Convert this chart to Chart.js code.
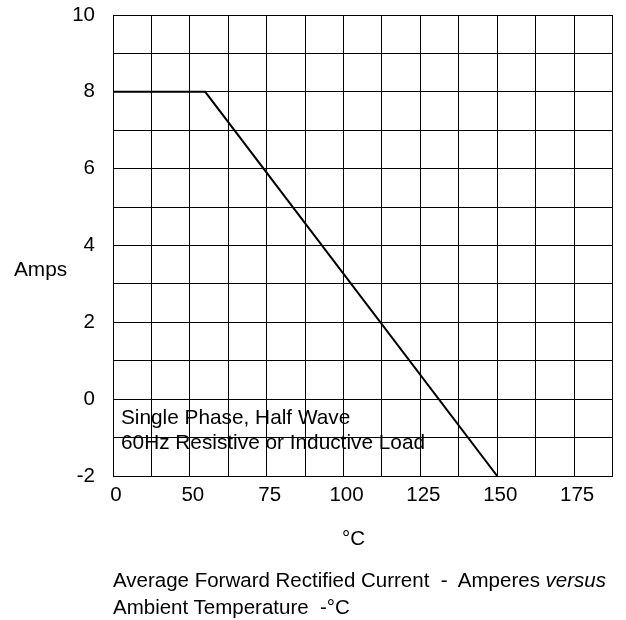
<!DOCTYPE html>
<html lang="en">
<head>
  <meta charset="UTF-8">
  <title>Average Forward Rectified Current vs Ambient Temperature</title>
  <script src="https://cdn.jsdelivr.net/npm/chart.js"></script>
  <style>
    html, body { margin: 0; padding: 0; background: #fff; }
    #wrap { position: relative; width: 626px; height: 620px; }
    canvas { position: absolute; left: 0; top: 0; }
    .txt { position: absolute; font-family: "Liberation Sans", Arial, sans-serif; font-size: 20.8px;
           line-height: 20.8px; color: #000; white-space: pre; pointer-events: none; }
    .cap { font-size: 20.5px; line-height: 20.5px; }
  </style>
</head>
<body>
<div id="wrap">
  <canvas id="derate" width="626" height="620"></canvas>
  <div class="txt" style="left:14px; top:259px;">Amps</div>
  <div class="txt" style="left:121px; top:407px;">Single Phase, Half Wave</div>
  <div class="txt" style="left:121px; top:432px;">60Hz Resistive or Inductive Load</div>
  <div class="txt cap" style="left:342px; top:528px;">°C</div>
  <div class="txt cap" style="left:113px; top:570px;">Average Forward Rectified Current  -  Amperes <i>versus</i></div>
  <div class="txt cap" style="left:113px; top:597px;">Ambient Temperature  -°C</div>
</div>

<script>
  // derating curve
  const tempC = [0, 55, 150];
  const amps  = [8, 8, -2];

  // axis ticks (left edge of the grid is labelled "0")
  const xTickValues = [25, 50, 75, 100, 125, 150, 175];
  const xTickLabels = ['0', '50', '75', '100', '125', '150', '175'];
  const yTickLabels = [-2, 0, 2, 4, 6, 8, 10];

  const font = { family: '"Liberation Sans", Arial, sans-serif', size: 20.5 };

  new Chart(document.getElementById('derate'), {
    type: 'line',
    data: {
      datasets: [{
        data: tempC.map((t, i) => ({ x: t, y: amps[i] })),
        borderColor: '#000',
        borderWidth: 2,
        pointRadius: 0,
        tension: 0,
        fill: false
      }]
    },
    options: {
      responsive: false,
      animation: false,
      layout: { padding: { top: 15, right: 13.5, left: 0, bottom: 0 } },
      plugins: { legend: { display: false }, tooltip: { enabled: false } },
      scales: {
        x: {
          type: 'linear',
          min: 25, max: 187.5,
          afterFit: s => { s.height = 144; s.paddingLeft = 0; s.paddingRight = 0; },
          grid: { color: '#000', lineWidth: 1, drawTicks: false },
          border: { color: '#000', width: 1 },
          ticks: {
            stepSize: 12.5,
            autoSkip: false,
            maxRotation: 0,
            padding: 7,
            labelOffset: 3,
            color: '#000',
            font,
            callback: v => {
              const i = xTickValues.indexOf(v);
              return i >= 0 ? xTickLabels[i] : '';
            }
          }
        },
        y: {
          min: -2, max: 10,
          afterFit: s => { s.width = 113; s.paddingTop = 0; s.paddingBottom = 0; },
          grid: { color: '#000', lineWidth: 1, drawTicks: false },
          border: { color: '#000', width: 1 },
          ticks: {
            stepSize: 1,
            autoSkip: false,
            padding: 18,
            color: '#000',
            font,
            callback: v => yTickLabels.includes(v) ? String(v) : ''
          }
        }
      }
    }
  });
</script>
</body>
</html>
